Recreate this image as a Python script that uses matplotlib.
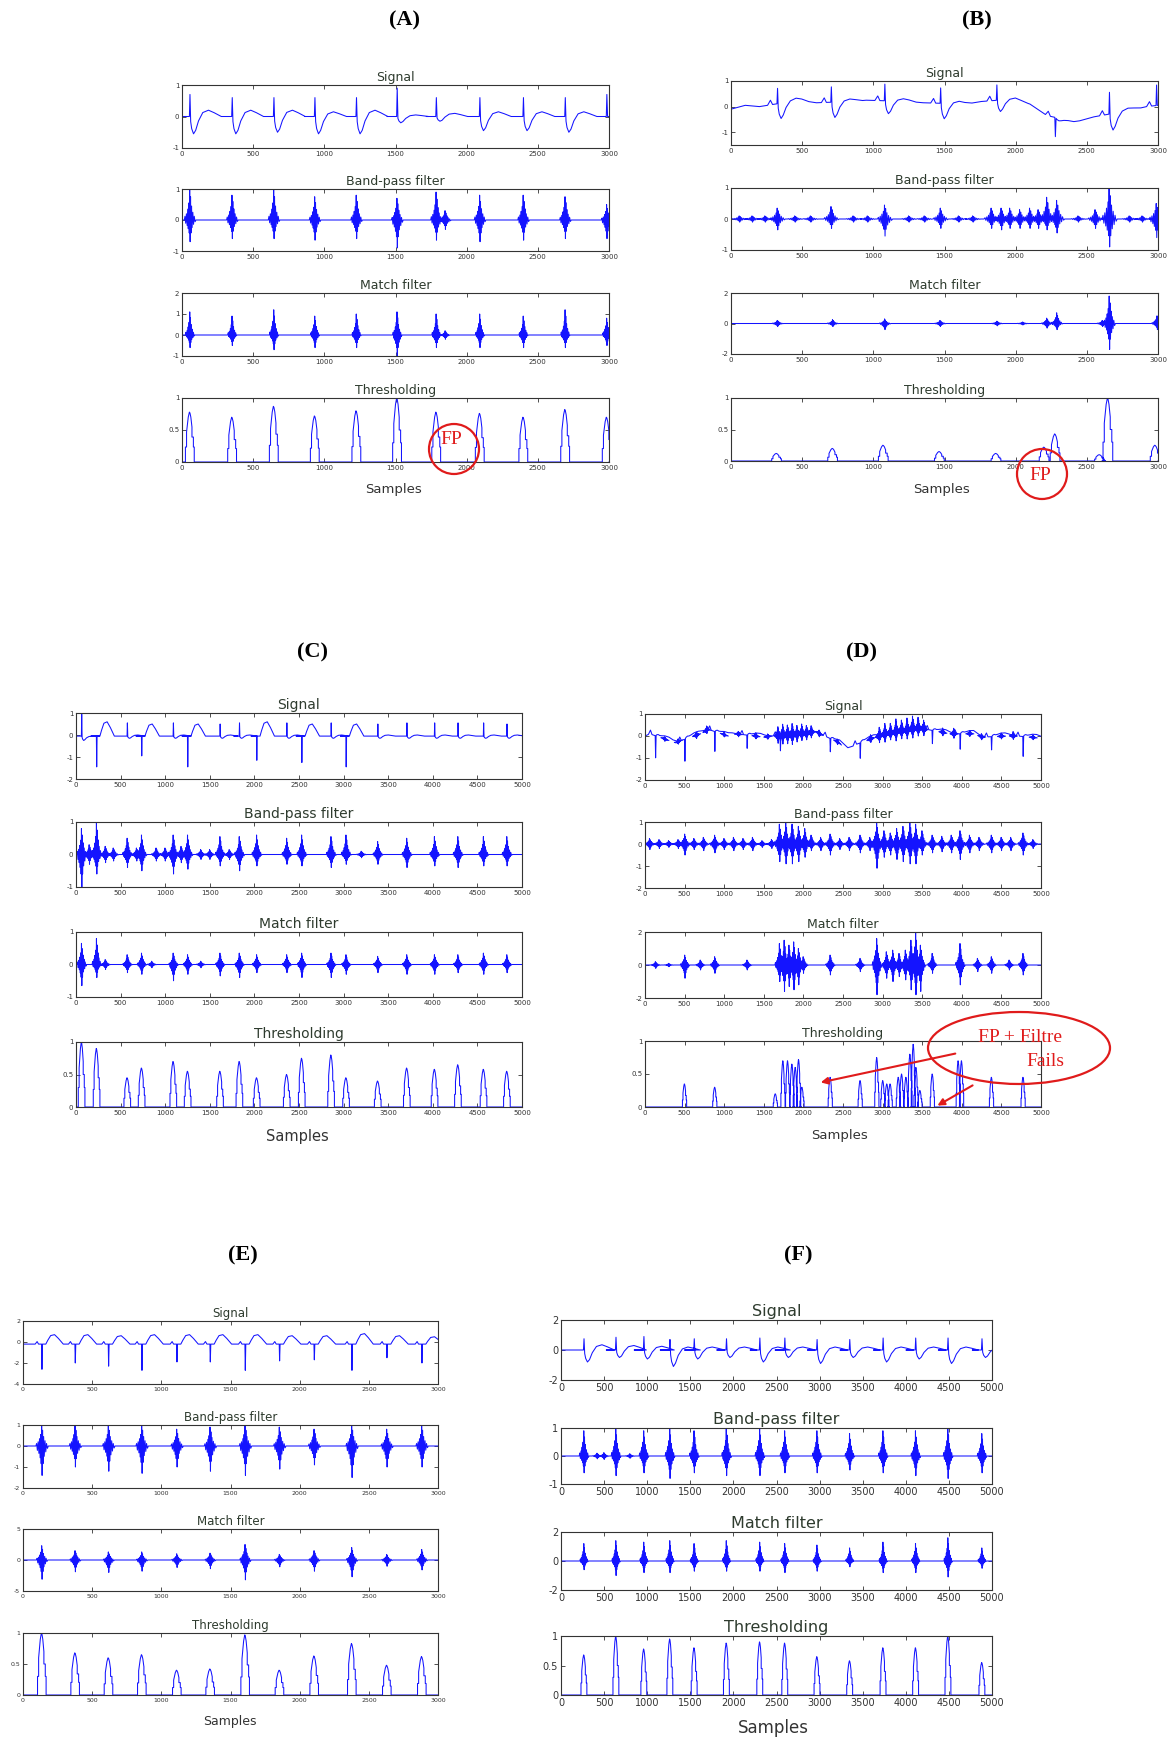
import numpy as np
import matplotlib
matplotlib.use("Agg")
import matplotlib.pyplot as plt
from matplotlib.patches import Ellipse, FancyArrowPatch
from matplotlib.ticker import FormatStrFormatter

W, H = 1172, 1738
BLUE = "#1414ff"
TITLE_COL = "#2e3b2e"

# ---- shape templates (offset in samples, weight) ----
SIG_OFF = np.array([-70, -50, -35, -12, -4, 0, 5, 12, 25, 40, 60, 90, 130, 170, 220])
P_W = np.array([0, 0.6, 0, 0, 0, 0, 0, 0, 0, 0, 0, 0, 0, 0, 0])
R_W = np.array([0, 0, 0, 0, 0, 1, 0, 0, 0, 0, 0, 0, 0, 0, 0])
S_W = np.array([0, 0, 0, 0, 0, 0, 0.3, 0.7, 1, 0.8, 0.4, 0.1, 0, 0, 0])
T_W = np.array([0, 0, 0, 0, 0, 0, 0, 0, 0, 0, 0.4, 0.9, 1, 0.6, 0])

BURST_OFF = np.array([-40, -35, -30, -25, -20, -16, -12, -8, -5, -2, 1, 4, 7, 11, 15, 20, 25, 30, 36, 42])
BURST_W = np.array([0, 0.12, -0.15, 0.2, -0.25, 0.35, -0.4, 0.55, -0.6, 1.0,
                    -1.0, 0.75, -0.6, 0.45, -0.35, 0.25, -0.2, 0.12, -0.08, 0])

TH_OFF = np.array([-38, -32, -32, -24, -24, -12, -4, 0, 6, 14, 14, 24, 24, 30, 30, 38])
TH_W = np.array([0, 0, 0.3, 0.3, 0.6, 0.9, 1.0, 0.98, 0.9, 0.7, 0.5, 0.5, 0.3, 0.3, 0, 0])

# ---- panel A (3000 samples) ----
A_BEATS = [56, 353, 646, 934, 1226, 1512, 1787, 2093, 2399, 2693, 2985]
A_R = [0.7, 0.6, 0.6, 0.6, 0.6, 0.9, 0.6, 0.6, 0.6, 0.6, 0.7]
A_S = [-0.55, -0.55, -0.5, -0.55, -0.55, -0.2, -0.15, -0.45, -0.45, -0.5, 0.0]
A_T = [0.2, 0.2, 0.2, 0.15, 0.2, 0.05, 0.1, 0.15, 0.15, 0.15, 0.0]
A_KX, A_KY = [0, 3000], [0.0, 0.0]
A_BP_X = [56, 353, 646, 934, 1226, 1512, 1787, 1850, 2093, 2399, 2693, 2985]
A_BP_UP = [1.0, 0.8, 1.0, 0.75, 0.8, 0.7, 0.9, 0.3, 0.8, 0.8, 0.75, 0.5]
A_BP_DN = [0.7, 0.6, 0.6, 0.65, 0.6, 0.9, 0.65, 0.3, 0.7, 0.65, 0.6, 0.6]
A_MF_UP = [1.1, 0.9, 1.2, 0.9, 1.0, 1.1, 1.0, 0.2, 1.0, 0.9, 1.2, 0.8]
A_MF_DN = [0.6, 0.5, 0.7, 0.6, 0.6, 1.0, 0.6, 0.2, 0.6, 0.6, 0.6, 0.5]
A_TH_H = [0.78, 0.70, 0.87, 0.72, 0.80, 1.0, 0.78, 0.76, 0.70, 0.82, 0.70]

# ---- panel B (3000 samples) ----
B_BEATS = [327, 705, 1081, 1473, 1868, 2279, 2659, 2990]
B_R = [0.6, 0.6, 0.65, 0.6, 0.6, -0.75, 0.85, 0.8]
B_S = [-0.6, -0.6, -0.5, -0.6, -0.45, -0.1, -0.65, 0.0]
B_T = [0.1, 0.1, 0.1, 0.1, 0.05, 0.0, 0.1, 0.0]
B_KX = [0, 100, 200, 480, 600, 850, 950, 1250, 1350, 1650, 1760, 1990, 2100, 2220, 2420, 2550, 2800, 2920, 3000]
B_KY = [-0.1, 0.05, 0.0, 0.25, 0.15, 0.2, 0.25, 0.2, 0.15, 0.1, 0.2, 0.3, 0.1, -0.35, -0.6, -0.4, -0.15, 0.0, 0.05]
B_BP_X = [60, 150, 240, 327, 450, 560, 705, 860, 960, 1081, 1250, 1360, 1473, 1600, 1700, 1830, 1900, 1960,
          2030, 2100, 2160, 2220, 2290, 2440, 2560, 2659, 2800, 2890, 2990]
B_BP_UP = [0.1, 0.1, 0.1, 0.35, 0.1, 0.1, 0.4, 0.1, 0.1, 0.45, 0.1, 0.1, 0.35, 0.1, 0.1, 0.35, 0.35, 0.35,
           0.3, 0.35, 0.3, 0.7, 0.6, 0.1, 0.3, 1.0, 0.1, 0.1, 0.5]
B_BP_DN = [0.1, 0.1, 0.1, 0.35, 0.1, 0.1, 0.3, 0.1, 0.1, 0.55, 0.1, 0.1, 0.3, 0.1, 0.1, 0.3, 0.35, 0.3,
           0.3, 0.3, 0.3, 0.35, 0.45, 0.1, 0.3, 0.9, 0.1, 0.1, 0.6]
B_MF_X = [327, 715, 1081, 1470, 1870, 2050, 2220, 2290, 2610, 2659, 2995]
B_MF_UP = [0.2, 0.25, 0.3, 0.2, 0.15, 0.1, 0.35, 0.7, 0.2, 1.8, 0.5]
B_MF_DN = [0.2, 0.2, 0.4, 0.2, 0.15, 0.1, 0.3, 0.4, 0.2, 1.7, 0.4]
B_TH_X = [321, 715, 1071, 1465, 1863, 2201, 2278, 2590, 2649, 2981]
B_TH_H = [0.12, 0.2, 0.25, 0.15, 0.12, 0.22, 0.43, 0.1, 1.0, 0.25]

# ---- panel C (5000 samples) ----
C_BEATS = [64, 232, 576, 737, 1092, 1253, 1616, 1833, 2027, 2364, 2532, 2861, 3029, 3384, 3710, 4021, 4283, 4570, 4832]
C_R = [1.0, -1.4, 0.6, -0.9, 0.6, -1.4, 0.55, 0.6, -1.1, 0.6, -1.2, 0.6, -1.4, 0.55, 0.6, 0.6, 0.6, 0.6, 0.55]
C_S = [-0.2, 0, -0.1, 0, -0.1, 0, -0.1, -0.1, 0, -0.1, 0, -0.1, 0, -0.1, -0.1, -0.1, -0.1, -0.1, -0.1]
C_T = [0, 0.65, 0.05, 0.55, 0.05, 0.55, 0.05, 0.05, 0.65, 0.05, 0.55, 0.05, 0.55, 0.05, 0.05, 0.05, 0.05, 0.05, 0.05]
C_KX, C_KY = [0, 5000], [-0.05, -0.05]
C_BP_X = [64, 150, 232, 330, 420, 576, 680, 737, 900, 1000, 1092, 1180, 1253, 1400, 1500, 1616, 1720, 1833, 2027,
          2364, 2532, 2861, 3029, 3200, 3384, 3710, 4021, 4283, 4570, 4832]
C_BP_UP = [0.8, 0.3, 1.0, 0.25, 0.2, 0.5, 0.2, 0.6, 0.2, 0.2, 0.6, 0.25, 0.6, 0.15, 0.15, 0.55, 0.15, 0.55, 0.6,
           0.5, 0.6, 0.55, 0.6, 0.1, 0.4, 0.5, 0.55, 0.55, 0.55, 0.55]
C_BP_DN = [1.0, 0.3, 0.6, 0.25, 0.2, 0.4, 0.2, 0.5, 0.2, 0.2, 0.6, 0.25, 0.45, 0.15, 0.15, 0.35, 0.15, 0.5, 0.35,
           0.3, 0.35, 0.4, 0.3, 0.1, 0.3, 0.4, 0.35, 0.4, 0.35, 0.35]
C_MF_X = [64, 232, 330, 576, 737, 850, 1092, 1253, 1400, 1616, 1833, 2027, 2364, 2532, 2861, 3029, 3384, 3710,
          4021, 4283, 4570, 4832]
C_MF_UP = [0.65, 0.8, 0.15, 0.3, 0.35, 0.1, 0.35, 0.3, 0.1, 0.35, 0.35, 0.3, 0.3, 0.35, 0.35, 0.3, 0.25, 0.3,
           0.3, 0.3, 0.35, 0.3]
C_MF_DN = [0.65, 0.4, 0.15, 0.25, 0.3, 0.1, 0.5, 0.3, 0.1, 0.35, 0.4, 0.25, 0.25, 0.4, 0.4, 0.3, 0.25, 0.3,
           0.3, 0.25, 0.3, 0.25]
C_TH_H = [1.0, 0.9, 0.45, 0.6, 0.7, 0.55, 0.55, 0.7, 0.45, 0.5, 0.75, 0.8, 0.45, 0.4, 0.6, 0.58, 0.65, 0.58, 0.55]

# ---- panel D (5000 samples) ----
D_BEATS = [134, 504, 882, 1290, 1710, 2340, 2718, 3629, 3980, 4376, 4775]
D_R = [-1.0, -1.0, -0.9, -0.6, -0.7, -0.6, -0.7, -0.6, -0.7, -0.6, -0.9]
D_KX = [0, 60, 300, 380, 700, 800, 1050, 1150, 1500, 1600, 2000, 2150, 2450, 2550, 2650, 3000, 3200, 3450,
        3560, 3850, 4150, 4250, 4600, 4700, 5000]
D_KY = [0.0, 0.1, -0.2, -0.3, 0.1, 0.3, 0.0, 0.1, -0.05, 0.0, 0.1, 0.2, -0.3, -0.65, -0.4, 0.05, 0.2, 0.35,
        0.3, 0.1, 0.1, -0.05, 0.0, 0.0, -0.1]
D_SN_X = [250, 420, 650, 780, 1000, 1180, 1400, 1550, 1680, 1740, 1800, 1860, 1920, 1980, 2040, 2100, 2200,
          2430, 2850, 2960, 3030, 3100, 3170, 3240, 3310, 3380, 3450, 3520, 3760, 3900, 4100, 4250, 4500, 4650, 4900]
D_SN_UP = [0.1, 0.12, 0.15, 0.2, 0.1, 0.12, 0.15, 0.12, 0.4, 0.5, 0.45, 0.5, 0.4, 0.45, 0.35, 0.3, 0.15,
           0.12, 0.2, 0.4, 0.5, 0.45, 0.6, 0.5, 0.55, 0.6, 0.5, 0.4, 0.2, 0.25, 0.15, 0.15, 0.15, 0.2, 0.12]
D_SN_DN = [0.1, 0.12, 0.15, 0.15, 0.1, 0.12, 0.12, 0.12, 0.35, 0.4, 0.4, 0.45, 0.35, 0.3, 0.3, 0.25, 0.15,
           0.12, 0.15, 0.3, 0.35, 0.3, 0.4, 0.35, 0.4, 0.4, 0.35, 0.3, 0.15, 0.2, 0.12, 0.12, 0.12, 0.15, 0.1]
D_BP_X = [60, 180, 300, 420, 504, 620, 740, 882, 1000, 1120, 1240, 1360, 1480, 1600, 1700, 1780, 1860, 1940,
          2020, 2100, 2220, 2340, 2460, 2580, 2718, 2840, 2928, 3020, 3100, 3180, 3260, 3347, 3420, 3500,
          3629, 3750, 3870, 3980, 4100, 4220, 4376, 4500, 4620, 4775, 4900]
D_BP_UP = [0.25, 0.2, 0.15, 0.2, 0.45, 0.25, 0.3, 0.4, 0.25, 0.3, 0.25, 0.3, 0.15, 0.2, 0.9, 1.0, 0.9, 0.8,
           0.7, 0.4, 0.3, 0.45, 0.25, 0.3, 0.4, 0.3, 1.0, 0.6, 0.5, 0.7, 0.8, 1.0, 0.9, 0.6,
           0.4, 0.35, 0.4, 0.6, 0.4, 0.3, 0.4, 0.3, 0.3, 0.5, 0.2]
D_BP_DN = [0.25, 0.2, 0.15, 0.2, 0.5, 0.25, 0.3, 0.4, 0.25, 0.3, 0.25, 0.3, 0.15, 0.2, 0.8, 0.9, 0.9, 0.8,
           0.6, 0.3, 0.3, 0.5, 0.25, 0.3, 0.4, 0.3, 1.1, 0.6, 0.5, 0.7, 0.8, 0.9, 0.9, 0.5,
           0.4, 0.35, 0.4, 0.7, 0.4, 0.3, 0.4, 0.3, 0.3, 0.5, 0.2]
D_MF_X = [134, 300, 504, 700, 882, 1290, 1700, 1760, 1820, 1880, 1940, 2000, 2340, 2718, 2928, 3050, 3130,
          3210, 3290, 3360, 3420, 3480, 3629, 3980, 4200, 4376, 4600, 4775]
D_MF_UP = [0.2, 0.1, 0.6, 0.3, 0.5, 0.3, 1.3, 1.5, 1.2, 1.4, 1.0, 0.5, 0.6, 0.4, 1.6, 0.8, 0.9,
           0.7, 0.9, 1.5, 2.0, 1.2, 0.7, 1.3, 0.4, 0.5, 0.3, 0.7]
D_MF_DN = [0.2, 0.1, 0.8, 0.3, 0.5, 0.3, 1.0, 1.6, 1.3, 1.5, 1.2, 0.5, 0.6, 0.4, 1.8, 0.8, 1.0,
           0.7, 0.9, 1.5, 1.8, 1.6, 0.5, 1.2, 0.4, 0.5, 0.3, 0.6]
D_TH_X = [500, 882, 1647, 1743, 1802, 1857, 1899, 1941, 1983, 2340, 2718, 2928, 3004, 3055, 3097, 3200,
          3242, 3297, 3347, 3389, 3423, 3473, 3629, 3956, 3998, 4376, 4775]
D_TH_H = [0.35, 0.3, 0.2, 0.7, 0.7, 0.65, 0.6, 0.72, 0.3, 0.45, 0.4, 0.75, 0.4, 0.35, 0.35, 0.45,
          0.5, 0.45, 0.8, 0.95, 0.6, 0.25, 0.5, 0.7, 0.7, 0.45, 0.45]

# ---- panel E (3000 samples) ----
E_BEATS = [137, 378, 619, 860, 1113, 1354, 1607, 1855, 2106, 2378, 2631, 2884]
E_R = [-2.4, -1.8, -2.1, -2.5, -1.7, -1.7, -2.5, -1.6, -1.5, -2.5, -1.3, -1.8]
E_T = [0.9, 0.9, 0.8, 0.9, 0.9, 0.9, 0.9, 0.8, 0.8, 1.0, 0.8, 0.7]
E_KX, E_KY = [0, 3000], [-0.2, -0.2]
E_BP_UP = [1.0, 1.0, 1.0, 1.0, 0.8, 0.9, 1.0, 0.9, 0.8, 1.0, 0.8, 1.0]
E_BP_DN = [1.4, 1.0, 1.2, 1.3, 1.0, 1.2, 1.4, 1.1, 0.9, 1.5, 1.0, 1.0]
E_MF_UP = [2.3, 1.5, 1.3, 1.3, 1.0, 1.1, 2.5, 0.9, 1.5, 2.0, 0.9, 1.7]
E_MF_DN = [3.1, 1.9, 2.0, 1.8, 1.2, 1.4, 3.2, 1.1, 1.8, 2.7, 1.0, 1.6]
E_TH_H = [1.0, 0.68, 0.6, 0.65, 0.4, 0.42, 0.97, 0.4, 0.63, 0.83, 0.48, 0.62]

# ---- panel F (5000 samples) ----
F_BEATS = [267, 638, 962, 1264, 1546, 1920, 2307, 2597, 2971, 3350, 3737, 4115, 4490, 4884]
F_R = [0.75, 0.85, 0.9, 0.7, 0.75, 0.75, 0.8, 0.8, 0.7, 0.7, 0.8, 0.8, 0.8, 0.75]
F_S = [-0.8, -0.5, -0.6, -1.1, -0.6, -0.5, -0.8, -0.5, -0.9, -0.5, -0.8, -0.6, -0.9, -0.5]
F_T = [0.35, 0.3, 0.25, 0.2, 0.2, 0.2, 0.2, 0.2, 0.2, 0.2, 0.2, 0.2, 0.2, 0.2]
F_KX, F_KY = [0, 5000], [0.0, 0.0]
F_BP_X = [267, 420, 500, 638, 800, 962, 1264, 1546, 1920, 2307, 2597, 2971, 3350, 3737, 4115, 4490, 4884]
F_BP_UP = [0.9, 0.1, 0.12, 1.0, 0.08, 0.9, 1.0, 0.9, 1.0, 1.0, 0.9, 0.9, 0.8, 0.9, 0.9, 1.0, 0.8]
F_BP_DN = [0.6, 0.1, 0.12, 0.7, 0.08, 0.6, 0.8, 0.6, 0.7, 0.7, 0.6, 0.6, 0.5, 0.6, 0.7, 0.8, 0.6]
F_MF_UP = [1.2, 1.4, 1.3, 1.4, 1.2, 1.4, 1.3, 1.2, 1.1, 0.9, 1.3, 1.2, 1.6, 0.9]
F_MF_DN = [0.6, 1.0, 0.8, 0.8, 0.7, 0.7, 0.7, 0.8, 0.7, 0.4, 0.8, 0.8, 1.1, 0.5]
F_TH_H = [0.68, 1.0, 0.78, 0.95, 0.8, 0.88, 0.9, 0.88, 0.65, 0.58, 0.8, 0.8, 1.0, 0.55]

TITLES = ["Signal", "Band-pass filter", "Match filter", "Thresholding"]


def vec(v, n):
    return np.broadcast_to(np.asarray(v, dtype=float), (n,))


def signal_trace(beats, r, s, t, p, kx, ky, k):
    n = len(beats)
    r, s, t = vec(r, n), vec(s, n), vec(t, n)
    pieces, spans = [], []
    for i, c in enumerate(beats):
        xs = c + k * SIG_OFF
        ys = np.interp(xs, kx, ky) + r[i] * R_W + s[i] * S_W + t[i] * T_W + p * P_W
        pieces.append((xs, ys))
        spans.append((xs[0], xs[-1]))
    for x, y in zip(kx, ky):
        if not any(a <= x <= b for a, b in spans):
            pieces.append((np.array([x]), np.array([y])))
    pieces.sort(key=lambda q: q[0][0])
    return np.concatenate([q[0] for q in pieces]), np.concatenate([q[1] for q in pieces])


def burst_trace(xmax, centers, up, dn, k):
    xs, ys = [np.array([0.0])], [np.array([0.0])]
    for c, u, d in sorted(zip(centers, up, dn)):
        xs.append(c + k * BURST_OFF)
        ys.append(np.where(BURST_W > 0, BURST_W * u, BURST_W * d))
    xs.append(np.array([xmax]))
    ys.append(np.array([0.0]))
    return np.concatenate(xs), np.concatenate(ys)


def noise_on_signal(centers, up, dn, kx, ky, k):
    xs, ys = [], []
    for c, u, d in zip(centers, up, dn):
        bx = c + k * BURST_OFF
        xs += [bx, [np.nan]]
        ys += [np.interp(bx, kx, ky) + np.where(BURST_W > 0, BURST_W * u, BURST_W * d), [np.nan]]
    return np.concatenate(xs), np.concatenate(ys)


def thresh_trace(xmax, centers, heights, k):
    xs, ys = [np.array([0.0])], [np.array([0.0])]
    for c, h in sorted(zip(centers, heights)):
        xs.append(c + k * TH_OFF)
        ys.append(h * TH_W)
    xs.append(np.array([xmax]))
    ys.append(np.array([0.0]))
    return np.concatenate(xs), np.concatenate(ys)


# layout of each panel: left, right, rows (top, bottom) in pixels
LAYOUT = {
    "A": (182, 609, [(85, 148), (189, 251), (293, 356), (398, 462)]),
    "B": (731, 1158, [(81, 145), (188, 250), (293, 354), (398, 461)]),
    "C": (76, 522, [(713, 779), (822, 887), (932, 997), (1042, 1107)]),
    "D": (645, 1041, [(714, 780), (822, 888), (932, 998), (1041, 1107)]),
    "E": (23, 438, [(1321, 1384), (1425, 1488), (1529, 1591), (1633, 1695)]),
    "F": (561, 992, [(1320, 1380), (1428, 1484), (1532, 1590), (1636, 1695)]),
}
YAX = {
    "A": [(-1, 1, [-1, 0, 1]), (-1, 1, [-1, 0, 1]), (-1, 2, [-1, 0, 1, 2]), (0, 1, [0, 0.5, 1])],
    "B": [(-1.5, 1, [-1, 0, 1]), (-1, 1, [-1, 0, 1]), (-2, 2, [-2, 0, 2]), (0, 1, [0, 0.5, 1])],
    "C": [(-2, 1, [-2, -1, 0, 1]), (-1, 1, [-1, 0, 1]), (-1, 1, [-1, 0, 1]), (0, 1, [0, 0.5, 1])],
    "D": [(-2, 1, [-2, -1, 0, 1]), (-2, 1, [-2, -1, 0, 1]), (-2, 2, [-2, 0, 2]), (0, 1, [0, 0.5, 1])],
    "E": [(-4, 2, [-4, -2, 0, 2]), (-2, 1, [-2, -1, 0, 1]), (-5, 5, [-5, 0, 5]), (0, 1, [0, 0.5, 1])],
    "F": [(-2, 2, [-2, 0, 2]), (-1, 1, [-1, 0, 1]), (-2, 2, [-2, 0, 2]), (0, 1, [0, 0.5, 1])],
}
# label pos, samples pos, title size, tick size
TEXTS = {
    "A": ((405, 20), (393, 490), 9, 5),
    "B": ((977, 20), (942, 490), 9, 5),
    "C": ((313, 652), (297, 1136), 10, 5),
    "D": ((862, 652), (840, 1136), 9, 5),
    "E": ((243, 1255), (230, 1722), 8.5, 4.5),
    "F": ((798, 1255), (773, 1728), 11.5, 7),
}

traces = {
    "A": (3000, [signal_trace(A_BEATS, A_R, A_S, A_T, 0.0, A_KX, A_KY, 1.0),
                 burst_trace(3000, A_BP_X, A_BP_UP, A_BP_DN, 1.0),
                 burst_trace(3000, A_BP_X, A_MF_UP, A_MF_DN, 0.8),
                 thresh_trace(3000, A_BEATS, A_TH_H, 1.0)]),
    "B": (3000, [signal_trace(B_BEATS, B_R, B_S, B_T, 0.3, B_KX, B_KY, 1.0),
                 burst_trace(3000, B_BP_X, B_BP_UP, B_BP_DN, 1.3),
                 burst_trace(3000, B_MF_X, B_MF_UP, B_MF_DN, 1.0),
                 thresh_trace(3000, B_TH_X, B_TH_H, 1.1)]),
    "C": (5000, [signal_trace(C_BEATS, C_R, C_S, C_T, 0.0, C_KX, C_KY, 0.9),
                 burst_trace(5000, C_BP_X, C_BP_UP, C_BP_DN, 1.4),
                 burst_trace(5000, C_MF_X, C_MF_UP, C_MF_DN, 1.3),
                 thresh_trace(5000, C_BEATS, C_TH_H, 1.2)]),
    "D": (5000, [signal_trace(D_BEATS, D_R, 0.1, 0.15, 0.3, D_KX, D_KY, 1.3),
                 burst_trace(5000, D_BP_X, D_BP_UP, D_BP_DN, 1.7),
                 burst_trace(5000, D_MF_X, D_MF_UP, D_MF_DN, 1.5),
                 thresh_trace(5000, D_TH_X, D_TH_H, 0.85)]),
    "E": (3000, [signal_trace(E_BEATS, E_R, 0.0, E_T, 0.4, E_KX, E_KY, 0.7),
                 burst_trace(3000, E_BEATS, E_BP_UP, E_BP_DN, 1.1),
                 burst_trace(3000, E_BEATS, E_MF_UP, E_MF_DN, 1.0),
                 thresh_trace(3000, E_BEATS, E_TH_H, 1.0)]),
    "F": (5000, [signal_trace(F_BEATS, F_R, F_S, F_T, 0.0, F_KX, F_KY, 1.6),
                 burst_trace(5000, F_BP_X, F_BP_UP, F_BP_DN, 1.4),
                 burst_trace(5000, F_BEATS, F_MF_UP, F_MF_DN, 1.2),
                 thresh_trace(5000, F_BEATS, F_TH_H, 1.1)]),
}

fig = plt.figure(figsize=(W / 100, H / 100), dpi=100)
fig.patch.set_facecolor("white")


def fx(x):
    return x / W


def fy(y):
    return 1 - y / H


for key, (left, right, rows) in LAYOUT.items():
    xmax, lines = traces[key]
    lab_pos, samp_pos, tsize, ksize = TEXTS[key]
    for i, (top, bot) in enumerate(rows):
        ax = fig.add_axes([fx(left), fy(bot), (right - left) / W, (bot - top) / H])
        x, y = lines[i]
        ax.plot(x, y, color=BLUE, lw=0.75)
        if key == "D" and i == 0:
            nx, ny = noise_on_signal(D_SN_X, D_SN_UP, D_SN_DN, D_KX, D_KY, 1.2)
            ax.plot(nx, ny, color=BLUE, lw=0.75)
        lo, hi, yt = YAX[key][i]
        ax.set_xlim(0, xmax)
        ax.set_ylim(lo, hi)
        ax.set_yticks(yt)
        ax.set_xticks(np.arange(0, xmax + 1, 500))
        ax.yaxis.set_major_formatter(FormatStrFormatter("%g"))
        ax.tick_params(direction="in", length=3, width=0.6, labelsize=ksize, pad=2,
                       top=True, right=True, colors="#333333")
        for sp in ax.spines.values():
            sp.set_linewidth(0.8)
            sp.set_color("#333333")
        ax.set_title(TITLES[i], fontsize=tsize, color=TITLE_COL, pad=3)
    fig.text(fx(lab_pos[0]), fy(lab_pos[1]), "(%s)" % key, ha="center", va="center",
             fontsize=16, fontweight="bold", family="Liberation Serif")
    fig.text(fx(samp_pos[0]), fy(samp_pos[1]), "Samples", ha="center", va="center",
             fontsize=tsize + 0.5, color="#333333")

# red annotations
RED = "#e01b1b"
for cx, cy, tx, ty in [(454, 449, 451, 440), (1042, 474, 1040, 475)]:
    fig.add_artist(Ellipse((fx(cx), fy(cy)), 50 / W, 50 / H, transform=fig.transFigure,
                           fill=False, ec=RED, lw=1.6))
    fig.text(fx(tx), fy(ty), "FP", ha="center", va="center", color=RED,
             fontsize=14, family="Liberation Serif")

fig.add_artist(Ellipse((fx(1019), fy(1048)), 182 / W, 72 / H, transform=fig.transFigure,
                       fill=False, ec=RED, lw=1.6))
fig.text(fx(1020), fy(1038), "FP + Filtre", ha="center", va="center", color=RED,
         fontsize=14, family="Liberation Serif")
fig.text(fx(1045), fy(1062), "Fails", ha="center", va="center", color=RED,
         fontsize=14, family="Liberation Serif")
for (x0, y0), (x1, y1) in [((958, 1053), (818, 1083)), ((975, 1084), (935, 1107))]:
    fig.add_artist(FancyArrowPatch((fx(x0), fy(y0)), (fx(x1), fy(y1)), transform=fig.transFigure,
                                   arrowstyle="-|>", mutation_scale=10, color=RED, lw=1.5))

fig.savefig("out.png", dpi=100, facecolor="white")
